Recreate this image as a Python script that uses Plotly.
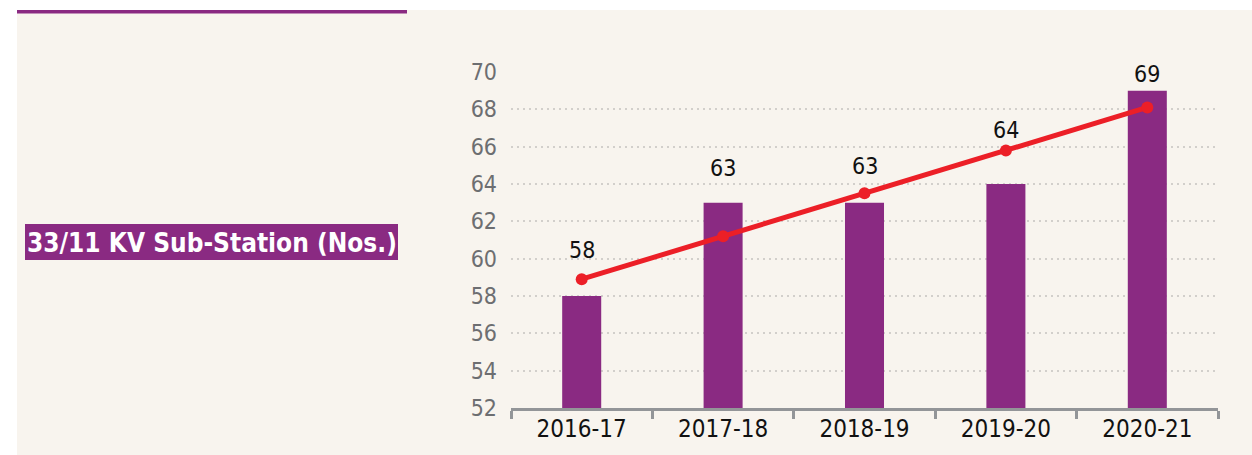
import plotly.graph_objects as go

categories = ["2016-17", "2017-18", "2018-19", "2019-20", "2020-21"]
substations = [58, 63, 63, 64, 69]
trend = [58.9, 61.2, 63.5, 65.8, 68.1]
y_ticks = list(range(52, 71, 2))
title_text = "33/11 KV Sub-Station (Nos.)"

W, H = 1252, 455
L, R, T, B = 511, 34, 72, 47
PW, PH = W - L - R, H - T - B

def px_x(x):
    return (x - L) / PW

def px_y(y):
    return (H - B - y) / PH

PURPLE = "#8a2a82"
RED = "#ec1f27"
CREAM = "#f8f4ee"
FONT = "DejaVu Sans Condensed, Liberation Sans Narrow, sans-serif"

fig = go.Figure()
fig.add_trace(go.Bar(x=categories, y=substations, marker_color=PURPLE,
                     marker_line_width=0, width=0.276, hoverinfo="skip"))
fig.add_trace(go.Scatter(x=categories, y=trend, mode="lines+markers",
                         line=dict(color=RED, width=5),
                         marker=dict(color=RED, size=12), cliponaxis=False))

label_shift = [29, 35, 27, 20, 17]
for c, v, t, s in zip(categories, substations, trend, label_shift):
    fig.add_annotation(x=c, y=max(v, t), text=str(v), showarrow=False,
                       yanchor="middle", yshift=s,
                       font=dict(family=FONT, size=23, color="#111111"))

shapes = [
    dict(type="rect", xref="paper", yref="paper", x0=px_x(0), x1=px_x(W),
         y0=px_y(0), y1=px_y(10), fillcolor="white", line_width=0, layer="below"),
    dict(type="rect", xref="paper", yref="paper", x0=px_x(0), x1=px_x(17),
         y0=px_y(0), y1=px_y(H), fillcolor="white", line_width=0, layer="below"),
    dict(type="rect", xref="paper", yref="paper", x0=px_x(17), x1=px_x(407),
         y0=px_y(10), y1=px_y(13.5), fillcolor=PURPLE, line_width=0, layer="below"),
    dict(type="rect", xref="paper", yref="paper", x0=px_x(25), x1=px_x(398),
         y0=px_y(224), y1=px_y(260), fillcolor=PURPLE, line_width=0, layer="below"),
]
fig.add_annotation(xref="paper", yref="paper", x=px_x(211.5), y=px_y(242.5),
                   text=title_text, showarrow=False, xanchor="center", yanchor="middle",
                   font=dict(family=FONT, size=26, color="white", weight="bold"))

fig.update_layout(
    width=W, height=H,
    margin=dict(l=L, r=R, t=T, b=B, pad=0),
    paper_bgcolor=CREAM, plot_bgcolor="rgba(0,0,0,0)",
    showlegend=False, shapes=shapes,
    xaxis=dict(showline=True, linecolor="#939598", linewidth=3,
               ticks="outside", tickson="boundaries", ticklen=8, tickwidth=3,
               tickcolor="#939598", showgrid=False, automargin=False,
               tickfont=dict(family=FONT, size=24, color="#111111"),
               ticklabelstandoff=-3),
    yaxis=dict(range=[52, 70], tickvals=y_ticks, showgrid=True,
               gridcolor="#d2cfcb", gridwidth=2, griddash="2px,4px",
               zeroline=False, showline=False, ticks="", automargin=False,
               tickfont=dict(family=FONT, size=23, color="#6d6e71"),
               ticklabelstandoff=13),
    bargap=0.7,
)

fig.write_html("out.html", config={"displayModeBar": False},
               post_script="document.body.style.margin='0';document.body.style.padding='0';")
